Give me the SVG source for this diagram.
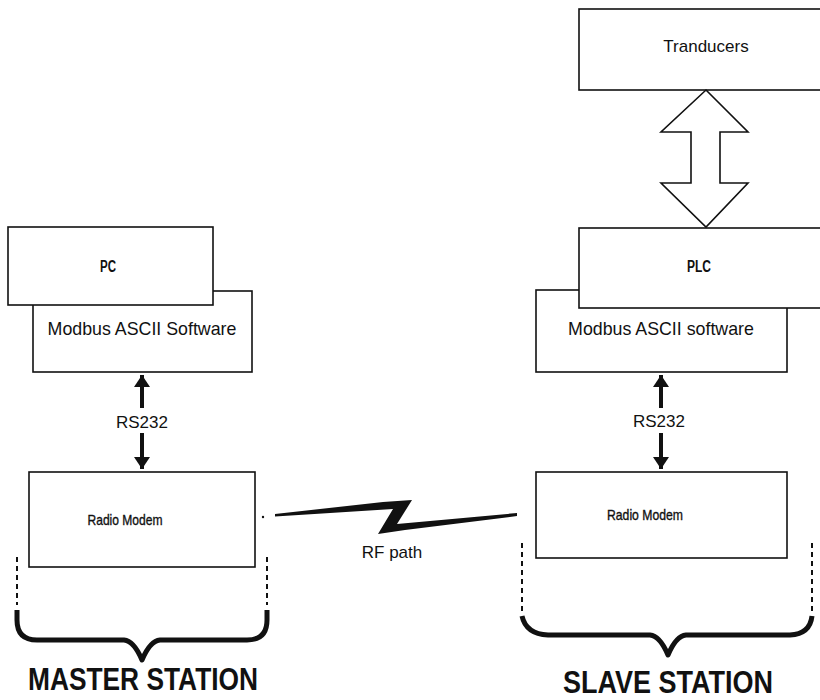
<svg xmlns="http://www.w3.org/2000/svg" width="820" height="700" viewBox="0 0 820 700">
  <style>
    .box { fill: #ffffff; stroke: #111111; stroke-width: 1.6; }
    .lbl { font-family: "Liberation Sans", Arial, sans-serif; font-size: 17px; fill: #111111; text-anchor: middle; }
    .sw { font-size: 17.8px; }
    .tag { font-family: "Liberation Sans", Arial, sans-serif; font-size: 16px; font-weight: bold; fill: #111111; text-anchor: middle; }
    .modem { font-family: "Liberation Sans", Arial, sans-serif; font-size: 14.5px; font-weight: normal; fill: #111111; stroke: #111111; stroke-width: 0.35; text-anchor: middle; }
    .title { font-family: "Liberation Sans", Arial, sans-serif; font-size: 31px; font-weight: bold; fill: #111111; text-anchor: middle; }
    .link { stroke: #111111; stroke-width: 4; fill: none; }
    .dash { stroke: #111111; stroke-width: 2; stroke-dasharray: 5 4; fill: none; }
    .brace { stroke: #111111; stroke-width: 5; fill: none; stroke-linejoin: round; }
  </style>
  <defs>
    <marker id="head" viewBox="0 0 12 16" refX="12" refY="8" markerWidth="12" markerHeight="16" markerUnits="userSpaceOnUse" orient="auto">
      <path d="M0,0 L12,8 L0,16 Z" fill="#111111"/>
    </marker>
  </defs>
  <rect width="820" height="700" fill="#ffffff"/>

  <!-- master station -->
  <g id="master-software">
    <rect class="box" x="33" y="291" width="219" height="81"/>
    <text class="lbl sw" x="142" y="335">Modbus ASCII Software</text>
  </g>
  <g id="master-pc">
    <rect class="box" x="8" y="227" width="205" height="78"/>
    <text class="tag" x="108" y="272" textLength="16" lengthAdjust="spacingAndGlyphs">PC</text>
  </g>
  <g id="master-modem">
    <rect class="box" x="29" y="472" width="226" height="95"/>
    <text class="modem" x="125" y="525" textLength="75" lengthAdjust="spacingAndGlyphs">Radio Modem</text>
  </g>
  <g id="master-label">
    <text class="title" x="143" y="690" textLength="230" lengthAdjust="spacingAndGlyphs">MASTER STATION</text>
  </g>

  <!-- slave station -->
  <g id="slave-transducers">
    <rect class="box" x="579" y="9" width="260" height="81"/>
    <text class="lbl" x="706" y="52">Tranducers</text>
  </g>
  <g id="slave-software">
    <rect class="box" x="536" y="290" width="251" height="82"/>
    <text class="lbl sw" x="661" y="335">Modbus ASCII software</text>
  </g>
  <g id="slave-plc">
    <rect class="box" x="579" y="228" width="260" height="80"/>
    <text class="tag" x="699" y="272" textLength="24" lengthAdjust="spacingAndGlyphs">PLC</text>
  </g>
  <g id="slave-modem">
    <rect class="box" x="536" y="472" width="251" height="86"/>
    <text class="modem" x="645" y="520" textLength="76" lengthAdjust="spacingAndGlyphs">Radio Modem</text>
  </g>
  <g id="slave-label">
    <text class="title" x="668" y="693" textLength="210" lengthAdjust="spacingAndGlyphs">SLAVE STATION</text>
  </g>

  <!-- connectors -->
  <g id="connectors">
    <!-- RS232 links -->
    <line class="link" x1="142" y1="408" x2="142" y2="375" marker-end="url(#head)"/>
    <line class="link" x1="142" y1="433" x2="142" y2="469" marker-end="url(#head)"/>
    <text class="lbl" x="142" y="428">RS232</text>
    <line class="link" x1="661" y1="408" x2="661" y2="375" marker-end="url(#head)"/>
    <line class="link" x1="661" y1="433" x2="661" y2="469" marker-end="url(#head)"/>
    <text class="lbl" x="659" y="427">RS232</text>

    <!-- PLC to transducers bus -->
    <polygon points="706,90 748,132 720,132 720,183 748,183 706,227 661,183 691,183 691,132 661,132" fill="#ffffff" stroke="#111111" stroke-width="1.6" stroke-linejoin="miter"/>

    <!-- RF link -->
    <circle cx="263" cy="517" r="1.2" fill="#111111"/>
    <polygon points="275,514 383,502 412,500 397,524 517,513 517,516 405,530 378,534 393,509 275,516.5" fill="#111111"/>
    <text class="lbl" x="392" y="558">RF path</text>

    <!-- station extents -->
    <line class="dash" x1="17" y1="557" x2="17" y2="605"/>
    <line class="dash" x1="267" y1="557" x2="267" y2="605"/>
    <path class="brace" d="M17,610 L17,620 Q17,640 37,640 L124,640 Q134,641 142,660 Q150,641 160,640 L247,640 Q267,640 267,620 L267,610"/>

    <line class="dash" x1="522" y1="543" x2="522" y2="613"/>
    <line class="dash" x1="812" y1="543" x2="812" y2="613"/>
    <path class="brace" d="M522,616 Q526,634 548,635 L650,635 Q660,636 668,655 Q676,636 686,635 L790,635 Q810,634 812,616"/>
  </g>
</svg>
